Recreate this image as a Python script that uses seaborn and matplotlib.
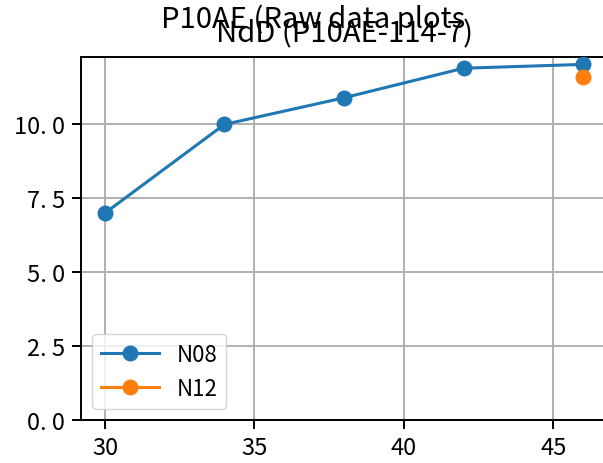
import matplotlib
matplotlib.use("Agg")
import matplotlib.pyplot as plt
from matplotlib.lines import Line2D
import seaborn as sns
import pandas as pd

# data
x_n08 = [30, 34, 38, 42, 46]
y_n08 = [7.0, 10.0, 10.9, 11.9, 12.03]
x_n12 = [46]
y_n12 = [11.62]
series_names = ["N08", "N12"]
colors = ["#1f77b4", "#ff7f0e"]
xticks = [30, 35, 40, 45]
yticks = [0.0, 2.5, 5.0, 7.5, 10.0]
suptitle_text = "P10AE (Raw data plots"
title_text = "NdD (P10AE-114-7)"

plt.rcParams["font.family"] = ["Noto Sans CJK JP", "DejaVu Sans"]

df = pd.DataFrame({
    "x": x_n08 + x_n12,
    "y": y_n08 + y_n12,
    "series": [series_names[0]] * len(x_n08) + [series_names[1]] * len(x_n12),
})

fig = plt.figure(figsize=(6.03, 4.64), dpi=100)
ax = fig.add_axes([81 / 603, 43 / 464, 526 / 603, 363 / 464])

sns.lineplot(data=df, x="x", y="y", hue="series", palette=colors,
             marker="o", markersize=11.5, markeredgewidth=0, linewidth=2.2,
             legend=False, ax=ax, zorder=3)

ax.set_xlim(29.2, 46.8)
ax.set_ylim(0, 12.28)
ax.set_xticks(xticks)
ax.set_xticklabels([str(v) for v in xticks])
ax.set_yticks(yticks)
ax.set_yticklabels([f"{v:.1f}".replace(".", ". ") for v in yticks])
ax.set_xlabel("")
ax.set_ylabel("")
ax.grid(True, color="#b0b0b0", linewidth=1.4)
ax.set_axisbelow(True)
for s in ax.spines.values():
    s.set_linewidth(1.4)
ax.tick_params(labelsize=17, length=6.5, width=1.4, pad=5)

handles = [Line2D([], [], color=c, marker="o", markersize=11.5, linewidth=2.2,
                  markeredgewidth=0) for c in colors]
ax.legend(handles, series_names, loc="lower left", fontsize=16,
          borderpad=0.4, handlelength=2.6, labelspacing=0.5, frameon=True)

ax.set_title(title_text, fontsize=21, pad=11)
fig.suptitle(suptitle_text, x=0.52, y=0.99, fontsize=21)

fig.savefig("out.png", dpi=100)
